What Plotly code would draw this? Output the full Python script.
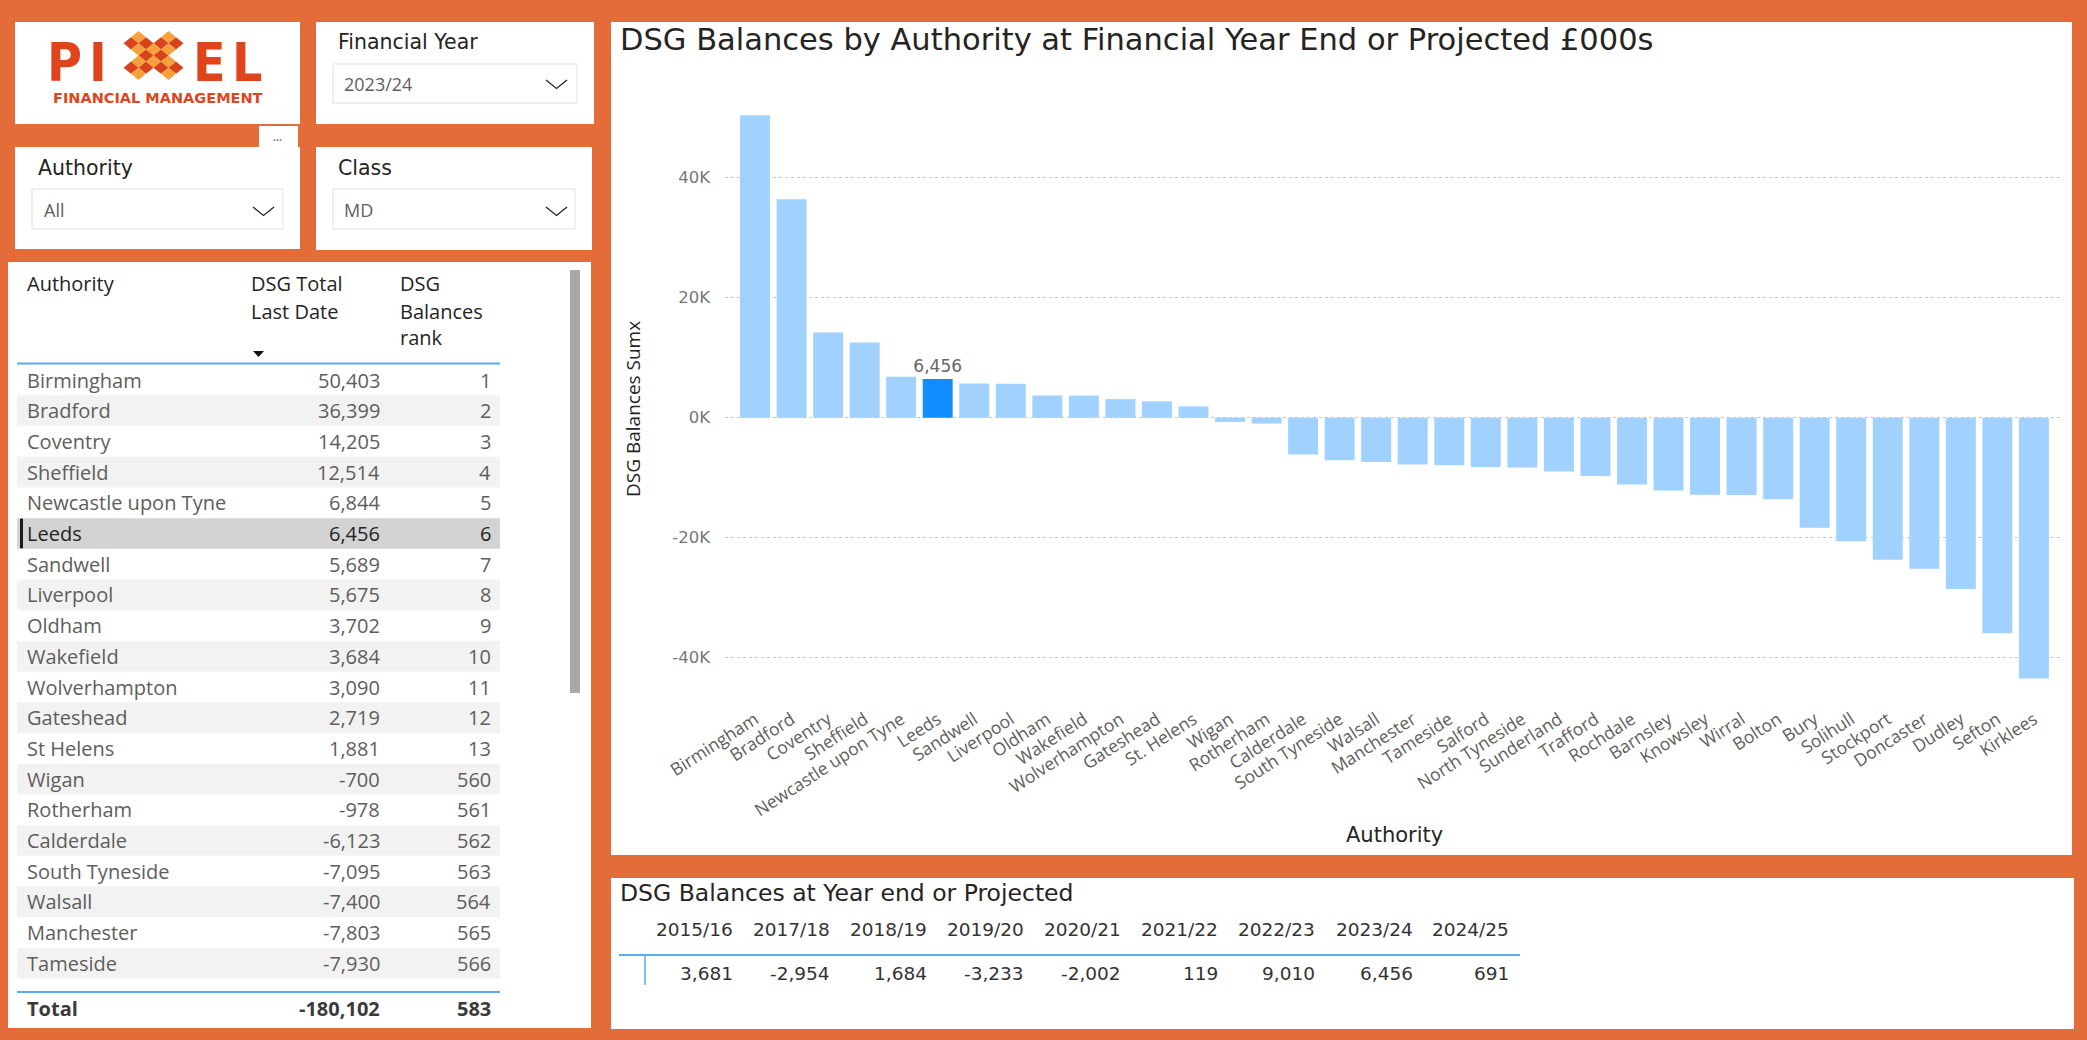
import plotly.graph_objects as go

# ---------------- data ----------------
authorities = ["Birmingham", "Bradford", "Coventry", "Sheffield", "Newcastle upon Tyne", "Leeds",
               "Sandwell", "Liverpool", "Oldham", "Wakefield", "Wolverhampton", "Gateshead",
               "St. Helens", "Wigan", "Rotherham", "Calderdale", "South Tyneside", "Walsall",
               "Manchester", "Tameside", "Salford", "North Tyneside", "Sunderland", "Trafford",
               "Rochdale", "Barnsley", "Knowsley", "Wirral", "Bolton", "Bury", "Solihull",
               "Stockport", "Doncaster", "Dudley", "Sefton", "Kirklees"]
balances = [50403, 36399, 14205, 12514, 6844, 6456, 5689, 5675, 3702, 3684, 3090, 2719, 1881,
            -700, -978, -6123, -7095, -7400, -7803, -7930, -8233, -8290, -8980, -9700, -11130,
            -12120, -12840, -12890, -13610, -18350, -20610, -23690, -25180, -28540, -35930, -43470]
ranks = [1, 2, 3, 4, 5, 6, 7, 8, 9, 10, 11, 12, 13, 560, 561, 562, 563, 564, 565, 566, 567,
         568, 569, 570, 571, 572, 573, 574, 575, 576, 577, 578, 579, 580, 581, 582]
table_names = ["Birmingham", "Bradford", "Coventry", "Sheffield", "Newcastle upon Tyne", "Leeds",
               "Sandwell", "Liverpool", "Oldham", "Wakefield", "Wolverhampton", "Gateshead",
               "St Helens", "Wigan", "Rotherham", "Calderdale", "South Tyneside", "Walsall",
               "Manchester", "Tameside"]
total_value = -180102
total_rank = 583
selected = "Leeds"

years = ["2015/16", "2017/18", "2018/19", "2019/20", "2020/21", "2021/22", "2022/23", "2023/24", "2024/25"]
year_values = [3681, -2954, 1684, -3233, -2002, 119, 9010, 6456, 691]

y_tick_vals = [-40000, -20000, 0, 20000, 40000]
y_tick_text = ["-40K", "-20K", "0K", "20K", "40K"]

# ---------------- page geometry helpers ----------------
W, H = 2087, 1040
ORANGE = "#E46C39"
SEGOE = "Open Sans, Segoe UI, sans-serif"
DIN = "DejaVu Sans, DIN, sans-serif"
DARK = "#252423"
GREY = "#605E5C"
BLUE_LINE = "#5AAAF0"

def X(x):
    return x / W

def Y(y):
    return 1 - y / H

fig = go.Figure()
shapes = []
annotations = []

def rect(x0, y0, x1, y1, fill="white", line=None, lw=1, layer="below"):
    shapes.append(dict(type="rect", xref="paper", yref="paper", x0=X(x0), x1=X(x1), y0=Y(y1), y1=Y(y0),
                       fillcolor=fill, line=dict(width=lw if line else 0, color=line or fill), layer=layer))

def hline(x0, x1, y, color, w=1.5, layer="below"):
    shapes.append(dict(type="line", xref="paper", yref="paper", x0=X(x0), x1=X(x1), y0=Y(y), y1=Y(y),
                       line=dict(color=color, width=w), layer=layer))

def vline(x, y0, y1, color, w=1.5, layer="below"):
    shapes.append(dict(type="line", xref="paper", yref="paper", x0=X(x), x1=X(x), y0=Y(y0), y1=Y(y1),
                       line=dict(color=color, width=w), layer=layer))

def path(points, fill=None, line=None, lw=1.2, closed=False, layer="above"):
    d = "M " + " L ".join(f"{X(px):.6f},{Y(py):.6f}" for px, py in points)
    if closed:
        d += " Z"
    shapes.append(dict(type="path", xref="paper", yref="paper", path=d,
                       fillcolor=fill if fill else "rgba(0,0,0,0)",
                       line=dict(color=line if line else "rgba(0,0,0,0)", width=lw if line else 0),
                       layer=layer))

def txt(x, y, s, size=18, color=GREY, family=SEGOE, xanchor="left", yanchor="middle", angle=0, weight="normal"):
    annotations.append(dict(x=X(x), y=Y(y), xref="paper", yref="paper", text=s, showarrow=False,
                            xanchor=xanchor, yanchor=yanchor, textangle=angle, borderpad=0,
                            font=dict(size=size, color=color, family=family, weight=weight)))

# ---------------- panels ----------------
rect(15, 22, 300, 124)            # logo
rect(316, 22, 594, 124)           # financial year slicer
rect(259, 126, 298, 148)          # "..." tab
rect(15, 147, 300, 249)           # authority slicer
rect(316, 147, 592, 250)          # class slicer
rect(8, 262, 591, 1028)           # table
rect(611, 22, 2072, 855)          # chart
rect(611, 878, 2074, 1029)        # year table

# ---------------- logo ----------------
LOGO_RED = "#E0441D"
LOGO_FONT = "Liberation Sans Narrow, DejaVu Sans Condensed, Arial Narrow, sans-serif"
for ch, cx in [("P", 64), ("I", 97.5), ("E", 209), ("L", 247)]:
    txt(cx, 62, ch, size=53, color=LOGO_RED, family=LOGO_FONT, xanchor="center", weight="bold")
txt(157.5, 97.5, "FINANCIAL MANAGEMENT", size=14.5, color=LOGO_RED,
    family="DejaVu Sans, sans-serif", xanchor="center", weight="bold")
cx0, cy0, ddx, ddy = 153.5, 55.5, 7.5, 6.1
cells = set()
for k in range(6):
    a = k - 2.5
    for b in (-0.5, 0.5):
        cells.add((a, b))
        cells.add((b, a))
for (i, j) in sorted(cells):
    xc = cx0 + (i - j) * ddx
    yc = cy0 + (i + j) * ddy
    col = "#D9431B" if int(round(i + j)) % 2 == 0 else "#F7A13C"
    path([(xc - ddx, yc), (xc, yc - ddy), (xc + ddx, yc), (xc, yc + ddy)], fill=col, closed=True)

# ---------------- slicers ----------------
txt(337, 42, "Financial Year", size=20.5, color=DARK, family=DIN)
rect(333, 64, 577, 103, fill="white", line="#E3E1DF", lw=1)
txt(343, 84, "2023/24", size=18, color=GREY)
path([(546, 80), (556.5, 88.5), (567, 80)], line=DARK, lw=1.3)

txt(277, 140, "•••", size=8, color="#7A7A7A", xanchor="center")

txt(37, 168, "Authority", size=20.5, color=DARK, family=DIN)
rect(32, 189, 283, 229, fill="white", line="#E3E1DF", lw=1)
txt(43, 210, "All", size=18, color=GREY)
path([(253, 207), (263.5, 215.5), (274, 207)], line=DARK, lw=1.3)

txt(337, 168, "Class", size=20.5, color=DARK, family=DIN)
rect(333, 189, 575, 229, fill="white", line="#E3E1DF", lw=1)
txt(343, 210, "MD", size=18, color=GREY)
path([(546, 207), (556.5, 215.5), (567, 207)], line=DARK, lw=1.3)

# ---------------- left table ----------------
COL_NAME_X, COL_VAL_R, COL_RANK_R = 26, 381, 492
ROW0, ROWH = 380, 30.7
TX0, TX1 = 17, 500
FS = 20
txt(COL_NAME_X, 284, "Authority", size=FS, color=DARK)
txt(250, 284, "DSG Total", size=FS, color=DARK)
txt(250, 311, "Last Date", size=FS, color=DARK)
txt(399, 284, "DSG", size=FS, color=DARK)
txt(399, 311, "Balances", size=FS, color=DARK)
txt(399, 338, "rank", size=FS, color=DARK)
path([(253, 351), (264, 351), (258.5, 357)], fill="#111111", closed=True)
hline(TX0, TX1, 363.5, BLUE_LINE, w=2)

for i, name in enumerate(table_names):
    yc = ROW0 + i * ROWH
    y0, y1 = yc - ROWH / 2, yc + ROWH / 2
    is_sel = name == selected
    if is_sel:
        rect(TX0, y0, TX1, y1, fill="#D3D3D3")
        rect(20, y0 + 0.5, 23, y1 - 0.5, fill="#1A1A1A")
    elif i % 2 == 1:
        rect(TX0, y0, TX1, y1, fill="#F2F2F2")
    col = DARK if is_sel else GREY
    txt(COL_NAME_X, yc, name, size=FS, color=col)
    txt(COL_VAL_R, yc, f"{balances[i]:,}", size=FS, color=col, xanchor="right")
    txt(COL_RANK_R, yc, f"{ranks[i]}", size=FS, color=col, xanchor="right")

hline(TX0, TX1, 992, BLUE_LINE, w=2)
txt(COL_NAME_X, 1008, "Total", size=FS, color="#3B3A39", weight="bold")
txt(COL_VAL_R, 1008, f"{total_value:,}", size=FS, color="#3B3A39", xanchor="right", weight="bold")
txt(COL_RANK_R, 1008, f"{total_rank}", size=FS, color="#3B3A39", xanchor="right", weight="bold")
rect(570, 270, 580, 693, fill="#A8A8A8")

# ---------------- main chart ----------------
txt(619, 40, "DSG Balances by Authority at Financial Year End or Projected £000s", size=30.5, color=DARK, family=DIN)

ZERO_PX, PX_PER_UNIT = 417.7, 0.006
PLOT_TOP, PLOT_BOT = 95, 705
PLOT_L, PLOT_R = 725, 2060
FIRST_C, STEP = 755, 36.54
y_hi = (ZERO_PX - PLOT_TOP) / PX_PER_UNIT
y_lo = -(PLOT_BOT - ZERO_PX) / PX_PER_UNIT
x_lo = -(FIRST_C - PLOT_L) / STEP
x_hi = (PLOT_R - FIRST_C) / STEP

colors = ["#118DFF" if a == selected else "#A0D1FF" for a in authorities]
labels = [f"{v:,}" if a == selected else "" for a, v in zip(authorities, balances)]
fig.add_trace(go.Bar(x=authorities, y=balances, marker=dict(color=colors, line=dict(width=0)),
                     text=labels, textposition="outside", cliponaxis=False, constraintext="none",
                     textfont=dict(size=17, color="#666666", family=DIN),
                     hoverinfo="skip", showlegend=False))

txt(633, 409, "DSG Balances Sumx", size=19, color=DARK, xanchor="center", angle=-90)
txt(1394, 835, "Authority", size=21, color=DARK, family=DIN, xanchor="center")

# ---------------- bottom year table ----------------
txt(619, 893, "DSG Balances at Year end or Projected", size=23.5, color=DARK, family=DIN)
year_right = [734, 831, 928, 1025, 1122, 1219, 1316, 1414, 1510]
for yr, val, xr in zip(years, year_values, year_right):
    txt(xr, 929, yr, size=18.5, color="#333333", family=DIN, xanchor="right")
    txt(xr, 973, f"{val:,}", size=18.5, color="#333333", family=DIN, xanchor="right")
hline(619, 1520, 955, BLUE_LINE, w=2)
vline(645, 955, 985, BLUE_LINE, w=1.5)

fig.update_layout(
    width=W, height=H, autosize=False,
    margin=dict(l=0, r=0, t=0, b=0, pad=0),
    paper_bgcolor=ORANGE, plot_bgcolor="rgba(0,0,0,0)",
    bargap=0.18,
    shapes=shapes, annotations=annotations,
    xaxis=dict(domain=[X(PLOT_L), X(PLOT_R)], range=[x_lo, x_hi], type="category",
               showgrid=False, zeroline=False, showline=False, ticks="",
               tickangle=-33, tickfont=dict(size=17.5, color=GREY, family=SEGOE),
               automargin=False, fixedrange=True),
    yaxis=dict(domain=[Y(PLOT_BOT), Y(PLOT_TOP)], range=[y_lo, y_hi],
               tickvals=y_tick_vals, ticktext=y_tick_text,
               showgrid=True, gridcolor="#C8C6C4", griddash="dot", gridwidth=1,
               zeroline=False, showline=False, ticks="", ticklabelstandoff=14,
               tickfont=dict(size=16.5, color="#777777", family=DIN),
               automargin=False, fixedrange=True),
)

fig.write_html("out.html", config={"displayModeBar": False},
               post_script="document.body.style.margin='0';document.body.style.overflow='hidden';")
